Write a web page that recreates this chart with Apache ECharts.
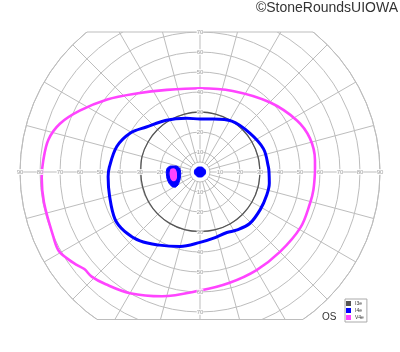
<!DOCTYPE html>
<html>
<head>
<meta charset="utf-8">
<script src="https://cdn.jsdelivr.net/npm/echarts@6/dist/echarts.min.js"></script>
<style>html,body{margin:0;padding:0;background:#fff;}#c{width:400px;height:352px;}</style>
</head>
<body>
<div id="c"></div>
<script>
// ---- data (degrees of visual field: radius = eccentricity, angle = meridian, CCW from right) ----
const seriesNames = ['I3e', 'I4e', 'V4e'];
const seriesColors = ['#555555', '#0000ff', '#ff44ff'];

const i3eAngles = [0,15,30,45,60,75,90,105,120,135,150,165,180,195,210,225,240,255,270,285,300,315,330,345,360];
const i3eRadii  = [30,30,30,30,30,30,30,30,30,30,30,30,29.6,29.6,29.7,29.8,29.8,29.8,29.7,29.8,30,30,30,30,30];

const i4eAngles = [0,4,20,38,58,76,90,104,123,140,151,163,177,183,195,209,218,229,241,255,270,281,294,302,314,328,341,351,360];
const i4eRadii  = [34.5,34.3,33.8,31.6,30,27.3,26.5,27.7,30.9,35,40,43.5,45.4,46,46.8,48.6,48,45.7,41.8,38.5,35.2,33.8,33.1,34.3,35.8,35.5,35.3,35.1,34.5];

const v4eAngles = [0,6,17,28,45,68,90,112,129,142,153,161,168,176,182,191,204,209,213,217,220,224,230,240,253,270,285,300,315,331,344,351,360];
const v4eRadii  = [57.5,57.8,57.5,54.9,49.3,43.7,41.9,44.3,50.5,58.9,67.5,74.1,77.5,78.6,79.2,79.5,80.2,80.9,79.3,77.2,75.5,75.3,73.3,70,65,59.3,57.3,56.6,56.5,57.4,57.2,57.4,57.5];

// blind spot / centre marks
const i4eSpotAngles = [176.5,170.8,167.5,167.2,177.1,194,205.5,211.3,210,204.1,194,185.2];
const i4eSpotRadii  = [16.7,15.9,13.8,11.0,9.8,10.1,11.5,13.5,15.1,16.1,16.7,16.8];
const v4eSpotAngles = [176.3,172.1,170.9,175,187.8,199.2,201,197.2,189.2];
const v4eSpotRadii  = [15.3,14.4,12.8,11.7,11.3,12.3,13.8,15.0,15.5];
const centreAngles = [0,45,90,135,180,225,270,315];
const centreRadii  = [2.8,2.6,2.5,2.6,2.8,2.6,2.5,2.6];

// tick labels
const hTicks = [10,20,30,40,50,60,70,80,90];
const vTicks = [10,20,30,40,50,60,70];
const titleText = '\u00A9StoneRoundsUIOWA';
const eyeText = 'OS';

// ---- layout ----
const CENTER = [200, 172];
const R_PX = 180;
const MAX_DEG = 90;
const INNER_DEG = 5;
const TOP_CLIP_DEG = 70;
const BOTTOM_CLIP_DEG = 73.75;
const GRID = '#bdbdbd';
const pxPerDeg = R_PX / MAX_DEG;

const zip = (rs, as) => rs.map((r, i) => [r, as[i]]);

function lineSeries(idx, radii, angles, width) {
  return {
    name: seriesNames[idx], type: 'line', coordinateSystem: 'polar', polarIndex: 0,
    data: zip(radii, angles), smooth: 0.35, symbol: 'none', color: seriesColors[idx],
    lineStyle: { color: seriesColors[idx], width: width }, z: 3
  };
}
function spotSeries(name, radii, angles, fill, stroke, lw, z) {
  const pts = zip(radii, angles);
  return {
    name: name, type: 'custom', coordinateSystem: 'polar', polarIndex: 0, z: z,
    data: pts, encode: { radius: 0, angle: 1 },
    renderItem: function (params, api) {
      if (params.dataIndex !== 0) return;
      const points = pts.map(p => api.coord(p));
      return { type: 'polygon', shape: { points: points, smooth: 0.6 },
        style: { fill: fill, stroke: stroke, lineWidth: lw } };
    }
  };
}
function labelSeries(ticks, angle) {
  return {
    type: 'scatter', coordinateSystem: 'polar', polarIndex: 0, z: 8,
    data: ticks.map(t => [t, angle]), symbolSize: 1, itemStyle: { color: 'rgba(0,0,0,0)' },
    silent: true,
    label: { show: true, position: 'inside', formatter: p => String(p.value[0]),
      fontSize: 6, color: '#8c8c8c', backgroundColor: '#fff', padding: [0, 0],
      fontFamily: 'Liberation Sans' }
  };
}

const topDy = TOP_CLIP_DEG * pxPerDeg;
const botDy = BOTTOM_CLIP_DEG * pxPerDeg;
const topHalf = Math.sqrt(R_PX * R_PX - topDy * topDy);
const botHalf = Math.sqrt(R_PX * R_PX - botDy * botDy);
const topY = CENTER[1] - topDy;
const botY = CENTER[1] + botDy;

const chart = echarts.init(document.getElementById('c'), null, { renderer: 'canvas' });
chart.setOption({
  animation: false,
  backgroundColor: '#fff',
  polar: [
    { center: CENTER, radius: R_PX },
    { center: CENTER, radius: [INNER_DEG * pxPerDeg, R_PX] }
  ],
  radiusAxis: [
    { polarIndex: 0, type: 'value', min: 0, max: MAX_DEG, interval: 10, z: 0,
      axisLine: { show: false }, axisTick: { show: false }, axisLabel: { show: false },
      splitLine: { show: true, lineStyle: { color: GRID, width: 1 } } },
    { polarIndex: 1, type: 'value', min: INNER_DEG, max: MAX_DEG, z: 0,
      axisLine: { show: false }, axisTick: { show: false }, axisLabel: { show: false },
      splitLine: { show: false } }
  ],
  angleAxis: [
    { polarIndex: 0, type: 'value', min: 0, max: 360, interval: 15, startAngle: 0, clockwise: false, z: 0,
      axisLine: { show: false }, axisTick: { show: false }, axisLabel: { show: false }, splitLine: { show: false } },
    { polarIndex: 1, type: 'value', min: 0, max: 360, interval: 15, startAngle: 0, clockwise: false, z: 0,
      axisLine: { show: true, lineStyle: { color: GRID, width: 1 } },
      axisTick: { show: false }, axisLabel: { show: false },
      splitLine: { show: true, lineStyle: { color: GRID, width: 1 } } }
  ],
  legend: {
    data: seriesNames.map(n => ({ name: n, icon: 'rect' })),
    orient: 'vertical', left: 345, top: 299, z: 20,
    itemWidth: 5, itemHeight: 5, itemGap: 2, padding: [2, 3, 2, 1],
    borderColor: '#aaa', borderWidth: 1, backgroundColor: '#fff',
    selectedMode: false,
    textStyle: { fontSize: 5, color: '#333', fontFamily: 'Liberation Sans', padding: [0, 0, 0, -1] }
  },
  graphic: [
    { type: 'rect', z: 5, silent: true, shape: { x: 0, y: 0, width: 400, height: topY }, style: { fill: '#fff' } },
    { type: 'rect', z: 5, silent: true, shape: { x: 0, y: botY, width: 400, height: 352 - botY }, style: { fill: '#fff' } },
    { type: 'line', z: 6, silent: true, shape: { x1: CENTER[0] - topHalf, y1: topY, x2: CENTER[0] + topHalf, y2: topY }, style: { stroke: GRID, lineWidth: 1 } },
    { type: 'line', z: 6, silent: true, shape: { x1: CENTER[0] - botHalf, y1: botY, x2: CENTER[0] + botHalf, y2: botY }, style: { stroke: GRID, lineWidth: 1 } },
    { type: 'text', z: 30, right: 2, top: 1, style: { text: titleText, fontSize: 14, fill: '#333', fontFamily: 'Liberation Sans' } },
    { type: 'text', z: 30, left: 322, top: 312, style: { text: eyeText, fontSize: 10, fill: '#333', fontFamily: 'Liberation Sans' } }
  ],
  series: [
    labelSeries(hTicks, 0), labelSeries(hTicks, 180), labelSeries(vTicks, 90), labelSeries(vTicks, 270),
    lineSeries(2, v4eRadii, v4eAngles, 2.6),
    lineSeries(0, i3eRadii, i3eAngles, 1.3),
    lineSeries(1, i4eRadii, i4eAngles, 3),
    spotSeries('I4e spot', i4eSpotRadii, i4eSpotAngles, seriesColors[1], seriesColors[1], 1, 9),
    spotSeries('V4e spot', v4eSpotRadii, v4eSpotAngles, seriesColors[2], seriesColors[1], 1.2, 10),
    spotSeries('centre', centreRadii, centreAngles, seriesColors[1], seriesColors[1], 1, 10)
  ]
});
</script>
</body>
</html>
